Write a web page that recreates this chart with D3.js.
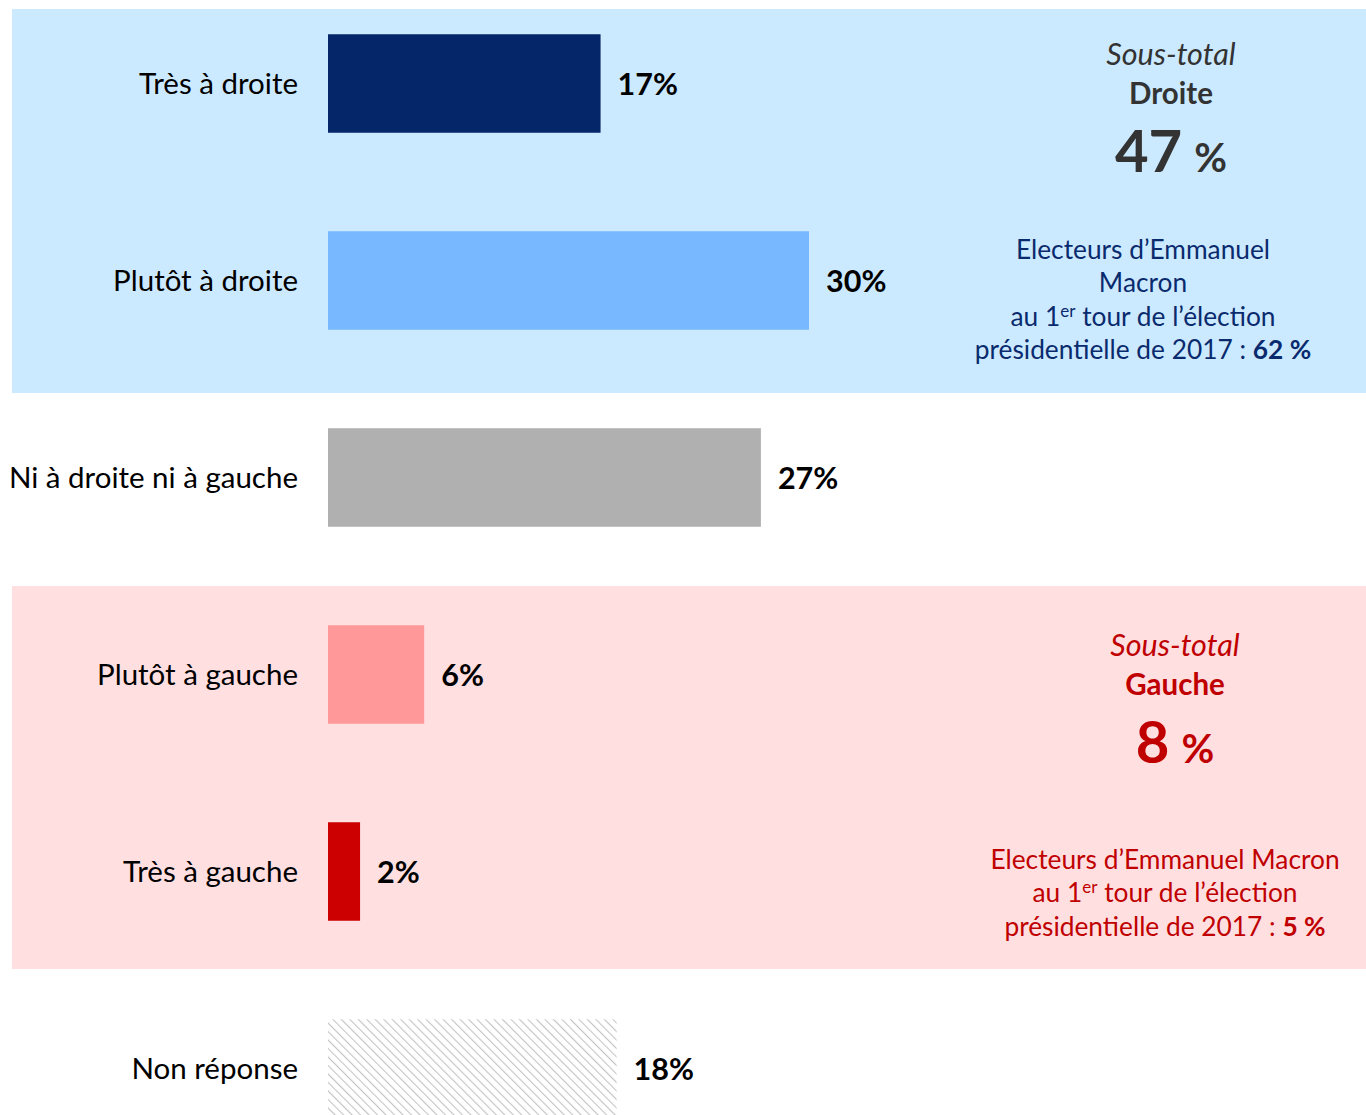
<!DOCTYPE html>
<html>
<head>
<meta charset="utf-8">
<script src="https://cdn.jsdelivr.net/npm/d3@7"></script>
<style>
  html, body { margin: 0; padding: 0; background: #ffffff; }
  svg { display: block; font-family: Lato, "Open Sans", sans-serif; }
</style>
</head>
<body>
<svg id="chart" width="1366" height="1115"></svg>
<script>
// Positionnement politique (en %)
const categories = ["Très à droite", "Plutôt à droite", "Ni à droite ni à gauche", "Plutôt à gauche", "Très à gauche", "Non réponse"];
const values = [17, 30, 27, 6, 2, 18];
const colors = ["#06266a", "#77b8ff", "#b0b0b0", "#ff9999", "#cc0000", "url(#hatch)"];

// Sous-totaux
const groupNames = ["Droite", "Gauche"];
const groupTotals = [47, 8];
const macronShares = [62, 5];

const svg = d3.select("#chart");
const W = 1366, H = 1115;

const x = d3.scaleLinear().domain([0, 30]).range([328, 809]);
const y = d3.scaleBand().domain(categories).range([-15, 1167]).paddingInner(0.5).paddingOuter(0.25);

// Hatch pattern for "Non réponse"
const defs = svg.append("defs");
const pat = defs.append("pattern")
  .attr("id", "hatch").attr("patternUnits", "userSpaceOnUse")
  .attr("width", 6).attr("height", 6)
  .attr("patternTransform", "rotate(-45)");
pat.append("rect").attr("width", 6).attr("height", 6).attr("fill", "#ffffff");
pat.append("line").attr("x1", 0).attr("y1", 0).attr("x2", 0).attr("y2", 6)
  .attr("stroke", "#c4c4c4").attr("stroke-width", 2.2);

// Background panels for the two groups
svg.append("rect").attr("x", 12).attr("y", 9).attr("width", W - 12).attr("height", 384).attr("fill", "#cceaff");
svg.append("rect").attr("x", 12).attr("y", 586).attr("width", W - 12).attr("height", 383).attr("fill", "#ffdfe0");

// Bars
svg.append("g").selectAll("rect").data(values).join("rect")
  .attr("x", x(0))
  .attr("y", (d, i) => y(categories[i]))
  .attr("width", d => x(d) - x(0))
  .attr("height", y.bandwidth())
  .attr("fill", (d, i) => colors[i]);

// Category labels
svg.append("g").selectAll("text").data(categories).join("text")
  .attr("x", 298)
  .attr("y", d => y(d) + y.bandwidth() / 2)
  .attr("dy", "0.35em")
  .attr("text-anchor", "end")
  .attr("font-size", 29.5)
  .attr("fill", "#000")
  .text(d => d);

// Value labels
svg.append("g").selectAll("text").data(values).join("text")
  .attr("x", d => x(d) + 17)
  .attr("y", (d, i) => y(categories[i]) + y.bandwidth() / 2)
  .attr("dy", "0.37em")
  .attr("font-size", 30.5)
  .attr("font-weight", "bold")
  .attr("fill", "#000")
  .text(d => d + "%");

// Subtotal blocks
function subtotal(cx, top, name, total, color) {
  const g = svg.append("g").attr("fill", color).attr("text-anchor", "middle");
  g.append("text").attr("x", cx).attr("y", top).attr("font-size", 30.5).attr("font-style", "italic").text("Sous-total");
  g.append("text").attr("x", cx).attr("y", top + 39).attr("font-size", 29.5).attr("font-weight", "bold").text(name);
  const t = g.append("text").attr("x", cx).attr("y", top + 107).attr("font-weight", "bold");
  t.append("tspan").attr("font-size", 58).text(total);
  t.append("tspan").attr("font-size", 40).attr("dx", 12).text("%");
}
subtotal(1171, 65, groupNames[0], groupTotals[0], "#333333");
subtotal(1175, 656, groupNames[1], groupTotals[1], "#c00000");

// Macron voters annotations
function macron(cx, top, lines, share, color) {
  const g = svg.append("g").attr("fill", color).attr("text-anchor", "middle").attr("font-size", 26.3);
  lines.forEach((ln, i) => {
    const t = g.append("text").attr("x", cx).attr("y", top + i * 33.3);
    if (ln === "au1er") {
      t.append("tspan").text("au 1");
      t.append("tspan").attr("font-size", 17).attr("dy", -9).text("er");
      t.append("tspan").attr("dy", 9).text(" tour de l’élection");
    } else if (ln === "pres") {
      t.append("tspan").text("présidentielle de 2017 : ");
      t.append("tspan").attr("font-weight", "bold").text(share + " %");
    } else {
      t.text(ln);
    }
  });
}
macron(1143, 259, ["Electeurs d’Emmanuel", "Macron", "au1er", "pres"], macronShares[0], "#0a2a6e");
macron(1165, 869, ["Electeurs d’Emmanuel Macron", "au1er", "pres"], macronShares[1], "#c00000");
</script>
</body>
</html>
